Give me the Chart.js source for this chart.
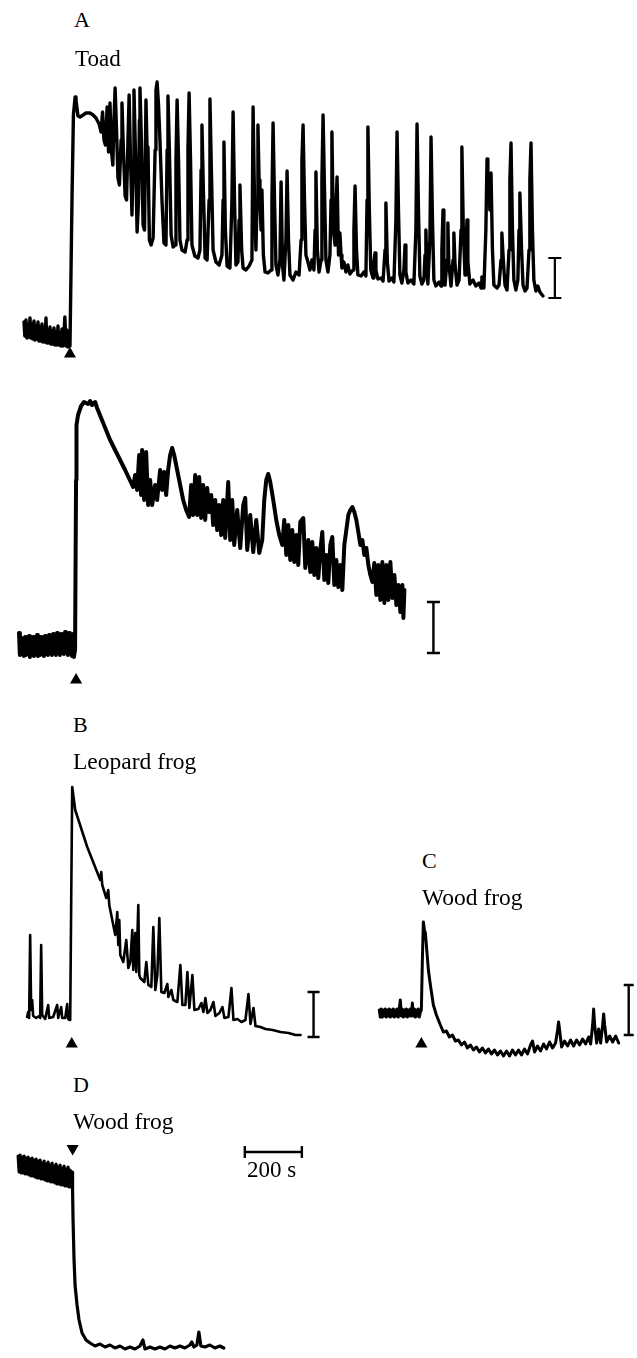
<!DOCTYPE html>
<html><head><meta charset="utf-8">
<script src="https://cdn.jsdelivr.net/npm/chart.js@4/dist/chart.umd.min.js"></script>
<style>
html,body{margin:0;padding:0;background:#fff;}
#page{position:relative;width:637px;height:1358px;overflow:hidden;background:#fff;}
.lbl{position:absolute;font-family:'Liberation Serif','Times New Roman',serif;color:#000;line-height:1;white-space:nowrap;}
canvas{position:absolute;}
</style></head><body><div id="page"></div>
<script>
// ---------- DATA (time in s relative to stimulus, signal in a.u. relative to baseline) ----------
const toadATime = [
-161,-158,-154,-151,-147,-144,-140,-137,-133,-130,
-126,-123,-119,-116,-112,-109,-105,-102,-98,-95,
-91,-88,-84,-81,-77,-74,-70,-67,-63,-60,
-56,-53,-49,-46,-42,-39,-35,-32,-28,-25,
-21,-18,-14,-11,-7,-4,0,
7,12,18,21,28,35,46,56,70,81,
91,102,109,114,119,124,130,135,140,145,
150,154,158,163,168,173,179,182,187,193,
198,203,207,212,217,221,224,229,235,240,
243,245,250,256,261,266,270,273,278,284,
291,298,301,305,310,315,322,329,336,340,
343,348,354,361,368,371,375,380,385,392,
403,410,413,417,422,427,437,448,455,459,
462,467,473,480,487,490,495,501,511,522,
532,536,539,544,550,560,567,571,576,581,
588,592,595,601,606,616,627,637,641,646,
651,655,658,662,665,669,672,677,683,693,
704,707,711,716,721,728,735,739,744,749,
756,760,765,770,781,791,802,809,812,816,
821,826,833,840,847,854,858,861,866,872,
879,882,886,891,896,903,910,914,917,922,
928,931,935,940,943,945,949,952,959,966,
973,980,991,994,998,1003,1008,1019,1029,1036,
1040,1043,1048,1053,1061,1064,1068,1071,1078,1089,
1096,1103,1106,1111,1117,1127,1134,1141,1145,1150,
1155,1162,1169,1173,1176,1183,1194,1204,1211,1215,
1220,1225,1232,1239,1243,1246,1250,1253,1260,1264,
1269,1274,1281,1292,1299,1302,1306,1309,1313,1320,
1323,1326,1334,1341,1344,1348,1355,1362,1369,1372,
1377,1383,1386,1390,1393,1400,1411,1421,1432,1439,
1442,1449,1456,1460,1463,1467,1470,1474,1479,1484,
1495,1502,1509,1512,1517,1523,1530,1537,1540,1544,
1549,1554,1561,1568,1572,1575,1581,1586,1593,1600,
1607,1610,1614,1619,1624,1631,1638,1645,1656];
const toadASignal = [
13,-1,15,-3,10,-2,17,-3,11,-4,
14,-5,9,-4,13,-6,8,-6,11,-7,
7,-7,17,-8,5,-8,8,-9,4,-9,
7,-10,3,-10,9,-10,2,-11,6,-11,
1,18,-11,5,-12,0,-11,
135,220,238,235,219,218,220,222,222,220,
217,211,203,223,195,190,228,183,232,185,
170,215,247,205,157,150,195,232,185,139,
135,195,240,175,120,175,245,185,103,135,
215,247,195,110,105,235,185,188,95,90,
97,185,245,253,230,195,135,92,90,185,
239,185,100,88,90,175,235,175,95,85,
83,95,185,242,175,90,79,77,85,165,
210,145,77,75,135,236,165,85,73,70,
80,135,193,105,69,67,135,223,135,70,
73,115,150,85,67,65,69,75,228,135,
85,135,210,155,135,105,145,80,63,62,
65,135,212,135,70,60,75,153,70,55,
95,164,95,60,55,63,60,95,175,210,
135,80,73,65,75,65,105,163,85,63,
75,155,220,145,75,63,80,135,203,105,
90,125,158,80,85,102,80,67,73,63,
70,61,65,105,149,85,60,59,63,59,
135,208,125,65,57,73,82,65,56,57,
54,85,132,73,54,57,53,115,203,125,
60,52,65,90,63,52,55,51,105,211,
125,59,51,55,80,105,65,51,95,198,
115,55,49,53,49,85,125,75,50,75,
112,73,49,75,102,70,50,55,105,188,
105,60,85,115,73,51,55,49,52,47,
58,47,105,176,135,150,125,162,85,50,
47,50,75,102,75,50,45,85,155,192,
105,55,45,55,105,142,85,50,44,47,
85,155,192,105,55,44,49,43,39];

const toadBTime = [
-196,-193,-189,-186,-182,-179,-175,-172,-168,-165,
-161,-158,-154,-151,-147,-144,-140,-137,-133,-130,
-126,-123,-119,-116,-112,-109,-105,-102,-98,-95,
-91,-88,-84,-81,-77,-74,-70,-67,-63,-60,
-56,-53,-49,-46,-42,-39,-35,-32,-28,-25,
-21,-18,-14,-11,-7,-4,0,
3.5,5,10.5,21,31.5,38.5,45.5,52.5,59.5,70,
77,122.5,175,203,
210,217,224,231,234.5,241.5,248.5,255.5,262.5,269.5,
280,287,297.5,304.5,311.5,318.5,325.5,332.5,339.5,346.5,
357,367.5,378,388.5,399,406,413,420,427,434,
441,448,455,462,469,476,483,490,497,504,
511,518,525,535.5,542.5,549.5,556.5,567,577.5,588,
595,602,612.5,623,633.5,644,654.5,661.5,668.5,675.5,
682.5,693,703.5,714,724.5,731.5,738.5,745.5,752.5,759.5,
766.5,773.5,780.5,787.5,798,805,815.5,822.5,829.5,836.5,
843.5,850.5,857.5,864.5,871.5,878.5,885.5,892.5,899.5,906.5,
913.5,920.5,927.5,934.5,941.5,948.5,955.5,962.5,969.5,976.5,
983.5,990.5,997.5,1004.5,1011.5,1018.5,1025.5,1032.5,1039.5,1046.5,
1053.5,1060.5,1067.5,1074.5,1081.5,1088.5,1095.5,1102.5,1109.5,1116.5,
1123.5,1130.5,1137.5,1144.5,1148,1151.5];
const toadBSignal = [
12,-10,7,-9,5,-11,8,-10,4,-8,
9,-12,5,-9,8,-11,4,-7,10,-11,
5,-10,8,-8,6,-11,9,-9,5,-10,
10,-7,7,-10,11,-8,6,-10,12,-7,
8,-10,11,-8,7,-9,13,-7,9,-10,
12,-8,8,-11,11,-12,-5,
165,220,230,239,243,242,241,244,240,243,
237,205,175,158,
170,155,190,150,195,145,193,140,165,140,
160,145,175,155,173,150,175,190,197,190,
175,160,145,135,128,160,130,170,130,168,
127,160,125,157,133,150,120,145,115,140,
110,145,107,163,105,145,100,135,97,140,
147,95,130,93,125,92,105,145,165,171,
163,145,125,110,100,125,90,120,85,115,
83,110,80,123,127,77,105,73,103,70,
97,67,95,113,65,90,62,100,108,60,
85,58,80,55,100,115,130,135,138,133,
125,113,100,105,90,97,80,70,63,82,
50,80,45,83,42,80,45,83,47,70,
40,60,33,60,27,55];

const leopardTime = [
-154,-150.5,-147,-143.5,-140,-136.5,-133,-122.5,-112,-108.5,
-105,-101.5,-91,-80.5,-77,-63,-49,-45.5,-35,-31.5,
-21,-14,-10.5,-3.5,0,3.5,14,56,101.5,105,
108.5,122.5,129.5,133,143.5,154,161,164.5,168,171.5,
182,192.5,199.5,206.5,213.5,217,224,227.5,234.5,238,
241.5,255.5,262.5,269.5,280,287,294,301,308,315,
325.5,336,339.5,350,357,371,381.5,388.5,399,406,
413,423.5,430.5,444.5,455,462,469,476,486.5,497,
504,518,528.5,535.5,549.5,560,567,581,595,609,
619.5,626.5,637,644,661.5,679,703.5,731.5,759.5,784,
801.5];
const leopardSignal = [
0,5,-1,82,7,17,1,-1,1,-1,
72,2,-2,12,-1,0,12,-1,10,-1,
-1,13,-2,-3,117,230,207,170,137,145,
132,119,127,112,97,82,105,72,97,62,
55,77,49,55,87,47,84,45,112,42,
39,35,55,32,30,90,27,42,99,25,
24,33,20,27,17,15,52,12,12,45,
9,42,7,8,14,5,19,4,7,15,
1,4,10,-1,0,29,-3,-2,-5,-3,
23,-7,9,-9,-10,-12,-13,-15,-16,-18,
-18];

const woodCTime = [
-147,-143.5,-140,-136.5,-133,-129.5,-126,-122.5,-119,-115.5,
-112,-108.5,-105,-101.5,-98,-94.5,-91,-87.5,-84,-80.5,
-73.5,-70,-66.5,-63,-59.5,-56,-52.5,-49,-45.5,-42,
-38.5,-35,-31.5,-28,-24.5,-21,-17.5,-14,-10.5,-7,
-3.5,0,3.5,7,10.5,14,17.5,24.5,31.5,42,
52.5,66.5,77,87.5,98,108.5,119,129.5,140,150.5,
161,171.5,182,192.5,203,213.5,224,234.5,245,255.5,
266,276.5,287,297.5,308,318.5,329,339.5,350,360.5,
371,381.5,388.5,395.5,406,416.5,427,437.5,448,458.5,
469,476,479.5,483,490,500.5,511,521.5,532,542.5,
553,563.5,574,584.5,591.5,598.5,602,605.5,612.5,619.5,
626.5,633.5,637,640.5,647.5,658,668.5,679,689.5];
const woodCSignal = [
3,-4,4,-4,3,-3,4,-4,3,-3,
4,-4,3,-3,4,-4,3,-3,4,-4,
13,-3,4,-4,3,-3,4,-4,3,-3,
4,-3,10,-3,4,-4,3,-3,4,-4,
1,3,53,91,83,80,68,43,28,8,
-2,-12,-19,-18,-24,-22,-28,-27,-32,-29,
-35,-32,-37,-34,-39,-35,-40,-36,-41,-37,
-42,-38,-43,-38,-43,-37,-42,-37,-42,-36,
-41,-32,-28,-39,-33,-38,-31,-36,-29,-35,
-30,-17,-9,-17,-34,-28,-33,-27,-33,-27,
-32,-26,-31,-24,-31,-12,4,-12,-30,-16,
-30,-12,-1,-12,-29,-23,-29,-23,-30];

const woodDTime = [
-189,-185.5,-182,-178.5,-175,-171.5,-168,-164.5,-161,-157.5,
-154,-150.5,-147,-143.5,-140,-136.5,-133,-129.5,-126,-122.5,
-119,-115.5,-112,-108.5,-105,-101.5,-98,-94.5,-91,-87.5,
-84,-80.5,-77,-73.5,-70,-66.5,-63,-59.5,-56,-52.5,
-49,-45.5,-42,-38.5,-35,-31.5,-28,-24.5,-21,-17.5,
-14,-10.5,-7,-3.5,0,
1.75,3.5,7,10.5,17.5,24.5,35,49,63,80.5,
98,115.5,133,150.5,168,185.5,203,220.5,238,248.5,
255.5,273,290.5,308,325.5,343,360.5,378,395.5,413,
420,427,437.5,444.5,451.5,465.5,483,500.5,518,532];
const woodDSignal = [
14,-2,15,-3,13,-3,14,-4,12,-4,
13,-5,11,-6,12,-6,10,-7,11,-8,
9,-8,10,-9,7,-9,9,-10,6,-11,
8,-11,5,-12,7,-12,4,-13,6,-14,
3,-14,5,-15,2,-15,4,-16,1,-16,
3,-17,0,-17,-2,
-20,-50,-90,-115,-135,-150,-163,-170,-173,-176,
-174,-177,-175,-178,-176,-179,-177,-179,-176,-170,
-179,-177,-179,-177,-179,-176,-178,-176,-178,-175,
-172,-177,-175,-162,-176,-177,-175,-178,-176,-178];

// ---------- LAYOUT ----------
const SEC_PER_PX = 3.5, AU_PER_PX = 1;
const page = document.getElementById('page');
function pts(t, v){ return t.map((x,i)=>({x:x, y:v[i]})); }
function ibar(t, lo, hi, cap){ return [{x:t-cap,y:hi},{x:t+cap,y:hi},{x:t,y:hi},{x:t,y:lo},{x:t-cap,y:lo},{x:t+cap,y:lo}]; }

const panels = [
 {x0:70, y0:335, tmin:-175, tmax:1740, amin:-30, amax:262, lw:3.4,
  trace:pts(toadATime,toadASignal), bar:ibar(1697.5,37,77,22.75), bw:2.2, tri:{x:0,y:-19,rot:0}},
 {x0:75, y0:645, tmin:-210, tmax:1290, amin:-45, amax:255, lw:4,
  trace:pts(toadBTime,toadBSignal), bar:ibar(1253,-8,43,22.75), bw:2.4, tri:{x:3.5,y:-35,rot:0}},
 {x0:71, y0:1017, tmin:-165, tmax:880, amin:-35, amax:240, lw:2.6,
  trace:pts(leopardTime,leopardSignal), bar:ibar(847,-20,25,21), bw:2.4, tri:{x:1.75,y:-27,rot:0}},
 {x0:421, y0:1013, tmin:-155, tmax:750, amin:-45, amax:100, lw:3,
  trace:pts(woodCTime,woodCSignal), bar:ibar(724.5,-22,28,17.5), bw:2.4, tri:{x:0,y:-31,rot:0}},
 {x0:72, y0:1170, tmin:-200, tmax:820, amin:-190, amax:32, lw:3.2,
  trace:pts(woodDTime,woodDSignal),
  bar:[{x:605.5,y:24},{x:605.5,y:12},{x:605.5,y:18},{x:805.5,y:18},{x:805.5,y:24},{x:805.5,y:12}], bw:2.4,
  tri:{x:2,y:21.5,rot:180}}
];

const PAD = 12;
panels.forEach(p=>{
  const w = (p.tmax-p.tmin)/SEC_PER_PX + 2*PAD;
  const h = (p.amax-p.amin)/AU_PER_PX + 2*PAD;
  const left = p.x0 + p.tmin/SEC_PER_PX - PAD;
  const top = p.y0 - p.amax/AU_PER_PX - PAD;
  const cv = document.createElement('canvas');
  cv.width = Math.round(w); cv.height = Math.round(h);
  cv.style.left = left+'px'; cv.style.top = top+'px';
  cv.style.width = Math.round(w)+'px'; cv.style.height = Math.round(h)+'px';
  page.appendChild(cv);
  new Chart(cv, {
    type:'line',
    data:{datasets:[
      {data:p.trace, borderColor:'#000', borderWidth:p.lw, pointRadius:0, tension:0, borderJoinStyle:'round', borderCapStyle:'round', clip:false},
      {data:p.bar, borderColor:'#000', borderWidth:p.bw, pointRadius:0, tension:0, clip:false},
      {data:[{x:p.tri.x,y:p.tri.y}], showLine:false, pointStyle:'triangle', pointRadius:7, pointRotation:p.tri.rot,
       pointBackgroundColor:'#000', pointBorderColor:'#000', pointBorderWidth:0, clip:false}
    ]},
    options:{
      responsive:false, animation:false, devicePixelRatio:window.devicePixelRatio||1,
      layout:{padding:PAD},
      plugins:{legend:{display:false}, tooltip:{enabled:false}},
      events:[],
      scales:{
        x:{type:'linear', min:p.tmin, max:p.tmax, display:false},
        y:{type:'linear', min:p.amin, max:p.amax, display:false}
      }
    }
  });
});

const labels = [
 {text:'A', x:74, base:27, fs:22},
 {text:'Toad', x:75, base:66, fs:23},
 {text:'B', x:73, base:732, fs:22},
 {text:'Leopard frog', x:73, base:770, fs:23.5},
 {text:'C', x:422, base:868, fs:22},
 {text:'Wood frog', x:422, base:906, fs:23.5},
 {text:'D', x:73, base:1092, fs:22},
 {text:'Wood frog', x:73, base:1130, fs:23.5},
 {text:'200 s', x:247, base:1177, fs:23}
];
labels.forEach(l=>{
  const d = document.createElement('div');
  d.className='lbl'; d.textContent = l.text;
  d.style.fontSize = l.fs+'px';
  d.style.left = l.x+'px';
  d.style.top = (l.base - l.fs*0.8375)+'px';
  page.appendChild(d);
});
</script>
</body></html>
